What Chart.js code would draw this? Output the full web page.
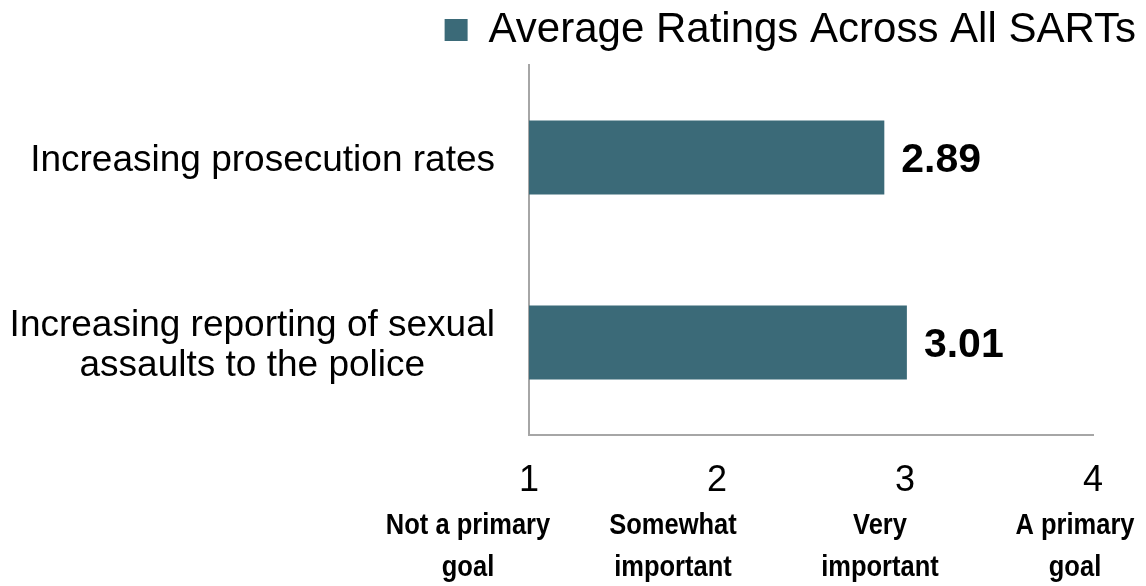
<!DOCTYPE html>
<html><head><meta charset="utf-8">
<script src="https://cdn.jsdelivr.net/npm/chart.js@4.4.1/dist/chart.umd.min.js"></script>
<style>html,body{margin:0;padding:0;background:#fff}#wrap{width:1146px;height:586px;position:relative}</style>
</head><body><div id="wrap"><canvas id="c"></canvas></div>
<script>
// ---- data ----
const categories = [
  ['Increasing prosecution rates'],
  ['Increasing reporting of sexual', 'assaults to the police']
];
const seriesName = 'Average Ratings Across All SARTs';
const values = [2.89, 3.01];
const tickValues = [1, 2, 3, 4];
const tickDescriptions = [
  ['Not a primary', 'goal'],
  ['Somewhat', 'important'],
  ['Very', 'important'],
  ['A primary', 'goal']
];

// ---- style ----
const FONT = "'Liberation Sans', Arial, Helvetica, sans-serif";
const BAR_COLOR = '#3b6a78';
const AXIS_COLOR = '#a6a6a6';
const descShift = [-61, -44, -25, -18];

const legendPatch = {
  id: 'legendPatch',
  beforeLayout(chart) {
    const lg = chart.legend;
    if (lg && !lg._patched) {
      const f = lg.fit;
      lg.fit = function () { f.call(this); this.height += 4; };
      lg._patched = true;
    }
  }
};

// category labels: block right-aligned against the axis, lines centred in the block
const yLabels = {
  id: 'yLabels',
  afterDraw(chart) {
    const ctx = chart.ctx;
    const ys = chart.scales.y;
    const right = chart.chartArea.left - 34;
    const lh = 40;
    ctx.save();
    ctx.font = '37px ' + FONT;
    ctx.fillStyle = '#000';
    ctx.textAlign = 'center';
    ctx.textBaseline = 'alphabetic';
    chart.data.labels.forEach((lines, i) => {
      const w = Math.max(...lines.map(l => ctx.measureText(l).width));
      const cx = right - w / 2;
      const y0 = ys.getPixelForTick(i) + 13 - (lines.length - 1) * lh / 2;
      lines.forEach((l, j) => ctx.fillText(l, cx, y0 + j * lh));
    });
    ctx.restore();
  }
};

const valueLabels = {
  id: 'valueLabels',
  afterDatasetsDraw(chart) {
    const ctx = chart.ctx;
    const meta = chart.getDatasetMeta(0);
    ctx.save();
    ctx.font = 'bold 41px ' + FONT;
    ctx.fillStyle = '#000';
    ctx.textAlign = 'left';
    ctx.textBaseline = 'middle';
    meta.data.forEach((el, i) => {
      ctx.fillText(chart.data.datasets[0].data[i].toFixed(2), el.x + 17, el.y + 3);
    });
    ctx.restore();
  }
};

// descriptive labels under the numeric ticks (narrow bold)
const descLabels = {
  id: 'descLabels',
  afterDraw(chart) {
    const ctx = chart.ctx;
    const xs = chart.scales.x;
    const sx = 0.85;
    ctx.save();
    ctx.font = 'bold 30px ' + FONT;
    ctx.fillStyle = '#000';
    ctx.textAlign = 'center';
    ctx.textBaseline = 'alphabetic';
    tickValues.forEach((v, i) => {
      const x = xs.getPixelForValue(v) + descShift[i];
      tickDescriptions[i].forEach((line, j) => {
        ctx.save();
        ctx.translate(x, 534 + j * 42);
        ctx.scale(sx, 1);
        ctx.fillText(line, 0, 0);
        ctx.restore();
      });
    });
    ctx.restore();
  }
};

new Chart(document.getElementById('c'), {
  type: 'bar',
  data: {
    labels: categories,
    datasets: [{
      label: seriesName,
      data: values,
      backgroundColor: BAR_COLOR,
      borderWidth: 0,
      barPercentage: 0.4,
      categoryPercentage: 1.0
    }]
  },
  options: {
    indexAxis: 'y',
    responsive: true,
    maintainAspectRatio: false,
    animation: false,
    layout: { padding: { top: -1, left: 0, right: 0, bottom: 0 } },
    plugins: {
      legend: {
        position: 'top',
        align: 'end',
        labels: {
          boxWidth: 23,
          boxHeight: 22,
          padding: 10,
          color: '#000',
          font: { family: FONT, size: 42, lineHeight: 1.0 }
        }
      },
      tooltip: { enabled: false }
    },
    scales: {
      x: {
        type: 'linear',
        min: 1,
        max: 4,
        afterBuildTicks(s) { s.ticks = tickValues.map(v => ({ value: v })); },
        afterFit(s) { s.height = 151; s.paddingRight = 53; },
        grid: { display: false, drawTicks: false },
        border: { display: true, color: AXIS_COLOR, width: 2 },
        ticks: {
          padding: 24,
          color: '#000',
          font: { family: FONT, size: 36 },
          callback: v => String(v)
        }
      },
      y: {
        afterFit(s) { s.width = 529; },
        grid: { display: false, drawTicks: false },
        border: { display: true, color: AXIS_COLOR, width: 2 },
        ticks: { display: false }
      }
    }
  },
  plugins: [legendPatch, yLabels, valueLabels, descLabels]
});
</script>
</body></html>
